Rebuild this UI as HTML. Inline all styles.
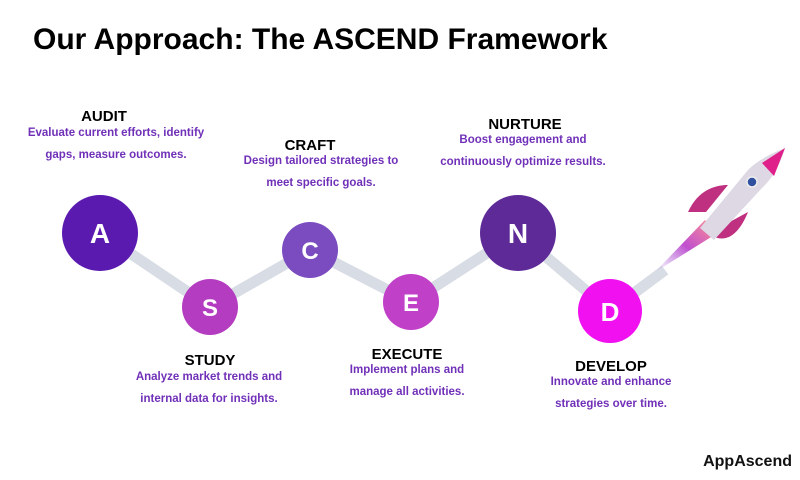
<!DOCTYPE html>
<html><head><meta charset="utf-8"><style>
body{margin:0;width:800px;height:480px;background:#fff;position:relative;overflow:hidden;font-family:"Liberation Sans",sans-serif}
h1{position:absolute;left:33px;top:23px;margin:0;font-size:30px;font-weight:bold;color:#000;letter-spacing:0px}
.t{position:absolute;width:260px;text-align:center;font-weight:bold;font-size:15px;color:#000}
.d{position:absolute;width:260px;text-align:center;font-size:11.5px;color:#7030b8;line-height:22px;font-weight:bold}
</style></head><body>
<h1>Our Approach: The ASCEND Framework</h1>
<svg width="800" height="480" style="position:absolute;left:0;top:0">
<defs><linearGradient id="fl" x1="0" y1="1" x2="1" y2="0"><stop offset="0" stop-color="#b080e0" stop-opacity="0"/><stop offset="0.5" stop-color="#c050d0"/><stop offset="1" stop-color="#ff9090"/></linearGradient></defs>
<polyline points="100,233 210,307 310,250 411,302 518,233 610,311 665,270" fill="none" stroke="#d8dce4" stroke-width="11"/>
<path d="M655,272 L705,220 L716,234 Z" fill="url(#fl)"/>
<path d="M688,212 C698,190 715,185 728,185 L706,212 Z" fill="#c03080"/>
<path d="M712,236 C728,244 740,232 748,212 L726,224 Z" fill="#c03080"/>
<path d="M700,228 L748,170 C758,160 772,153 785,148 C781,162 774,177 762,188 L714,240 Z" fill="#ddd8e4"/>
<path d="M762,163 L785,148 L774,176 Z" fill="#e0208a"/>
<circle cx="752" cy="182" r="5" fill="#3050a0" stroke="#eee" stroke-width="1.5"/>
<g font-family="Liberation Sans" font-weight="bold" fill="#fff" text-anchor="middle">
<circle cx="100" cy="233" r="38" fill="#5a1ab0"/><text x="100" y="243" font-size="28">A</text>
<circle cx="210" cy="307" r="28" fill="#b43cc0"/><text x="210" y="316" font-size="24">S</text>
<circle cx="310" cy="250" r="28" fill="#7a4cc0"/><text x="310" y="259" font-size="24">C</text>
<circle cx="411" cy="302" r="28" fill="#c040c8"/><text x="411" y="311" font-size="24">E</text>
<circle cx="518" cy="233" r="38" fill="#5e2a98"/><text x="518" y="243" font-size="28">N</text>
<circle cx="610" cy="311" r="32" fill="#f010f0"/><text x="610" y="321" font-size="26">D</text>
</g>
<text x="792" y="466" text-anchor="end" font-family="Liberation Sans" font-weight="bold" font-size="16" fill="#111">AppAscend</text>
</svg>
<div class="t" style="left:-26px;top:108px">AUDIT</div>
<div class="d" style="left:-14px;top:122px">Evaluate current efforts, identify<br>gaps, measure outcomes.</div>
<div class="t" style="left:180px;top:137px">CRAFT</div>
<div class="d" style="left:191px;top:150px">Design tailored strategies to<br>meet specific goals.</div>
<div class="t" style="left:395px;top:116px">NURTURE</div>
<div class="d" style="left:393px;top:129px">Boost engagement and<br>continuously optimize results.</div>
<div class="t" style="left:80px;top:352px">STUDY</div>
<div class="d" style="left:79px;top:366px">Analyze market trends and<br>internal data for insights.</div>
<div class="t" style="left:277px;top:346px">EXECUTE</div>
<div class="d" style="left:277px;top:359px">Implement plans and<br>manage all activities.</div>
<div class="t" style="left:481px;top:358px">DEVELOP</div>
<div class="d" style="left:481px;top:371px">Innovate and enhance<br>strategies over time.</div>
</body></html>
